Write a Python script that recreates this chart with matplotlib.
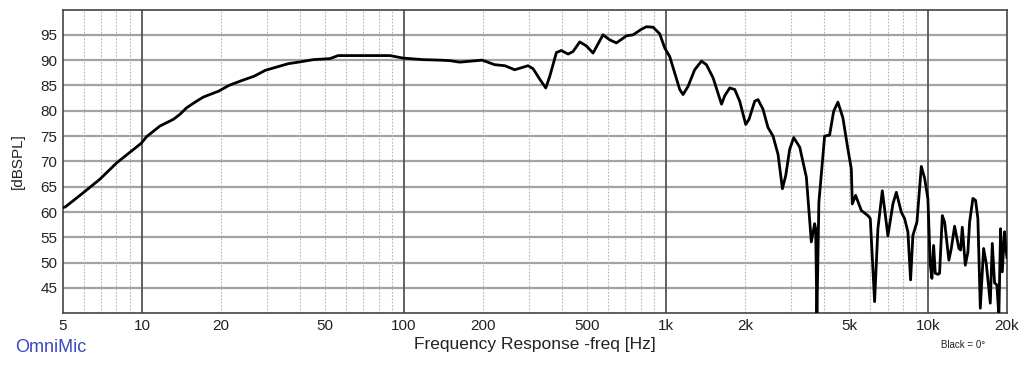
import matplotlib.pyplot as plt
from matplotlib.ticker import NullLocator

plt.rcParams['font.family'] = ['Liberation Sans', 'DejaVu Sans']

# frequency response (Hz, dB SPL)
freq = [5.0, 5.1, 5.97, 6.92, 8.01, 9.0, 9.95, 10.43, 11.73, 13.18, 13.97,
        14.82, 16.18, 17.15, 19.67, 21.47, 24.13, 26.75, 29.63, 36.2, 39.5,
        45.1, 52.2, 56.1, 88.4, 99.3, 118.4, 137, 149.6, 163.3, 198.8,
        221.9, 242.5, 264.6, 280.8, 297.5, 311, 330, 347.6, 360, 381.6,
        398.6, 422.8, 441.7, 468.6, 496.9, 526.6, 574.9, 609.9, 646.6,
        706.3, 748.3, 805.7, 841.9, 892.2, 946, 988.6, 1033, 1079, 1128,
        1161, 1213, 1286, 1365, 1426, 1512, 1628, 1676, 1750, 1829, 1910,
        2014, 2073, 2180, 2244, 2344, 2449, 2560, 2675, 2780, 2862, 2964,
        3071, 3237, 3431, 3584, 3690, 3723, 3764, 3830, 4028, 4209, 4361,
        4527, 4730, 4943, 5093, 5137, 5288, 5561, 5891, 6017, 6249, 6433,
        6687, 7024, 7341, 7564, 7900, 8133, 8372, 8573, 8749, 9064, 9421,
        9697, 9982, 10195, 10340, 10495, 10653, 10899, 11060, 11330, 11560,
        12003, 12261, 12621, 12877, 13105, 13305, 13502, 13865, 14185,
        14399, 14823, 15178, 15486, 15817, 16283, 16672, 17267, 17575,
        17930, 18297, 18620, 18902, 19187, 19577, 19749, 20000]
spl = [60.9, 61.0, 63.8, 66.5, 69.7, 71.8, 73.6, 74.9, 77.0, 78.3, 79.3,
       80.6, 81.9, 82.7, 83.9, 85.0, 86.0, 86.8, 88.0, 89.3, 89.6,
       90.1, 90.3, 90.9, 90.9, 90.4, 90.1, 90.0, 89.9, 89.6, 90.0,
       89.1, 88.9, 88.1, 88.5, 88.9, 88.3, 86.2, 84.5, 86.8, 91.5,
       91.9, 91.2, 91.7, 93.6, 92.8, 91.4, 95.0, 94.0, 93.4,
       94.8, 95.0, 96.1, 96.6, 96.5, 95.2, 92.4, 90.7, 87.5, 84.2,
       83.2, 84.8, 88.1, 89.8, 89.1, 86.5, 81.3, 83.0, 84.5, 84.2, 81.9,
       77.3, 78.3, 81.9, 82.2, 80.3, 76.7, 75.0, 71.4, 64.6, 67.2, 72.4,
       74.7, 72.8, 66.9, 54.1, 57.7, 56.7, 39.5, 61.9, 75.0, 75.2, 79.9,
       81.7, 78.6, 72.4, 68.5, 61.6, 63.3, 60.3, 59.3, 58.7, 42.3, 56.7,
       64.2, 55.3, 61.6, 63.9, 60.0, 58.7, 56.1, 46.6, 55.4, 58.0, 69.0,
       66.7, 62.6, 49.5, 46.9, 53.4, 47.9, 47.7, 47.9, 59.3, 58.0,
       50.5, 52.8, 57.2, 54.9, 52.8, 52.5, 57.0, 49.5, 52.1,
       58.0, 62.7, 62.3, 58.7, 41.0, 52.8, 49.8, 42.0, 53.8,
       46.0, 45.6, 39.5, 56.7, 48.2, 56.1, 53.4, 51.0]

xticks = [5, 10, 20, 50, 100, 200, 500, 1000, 2000, 5000, 10000, 20000]
xlabels = ['5', '10', '20', '50', '100', '200', '500', '1k', '2k', '5k', '10k', '20k']
yticks = [45, 50, 55, 60, 65, 70, 75, 80, 85, 90, 95]

fig = plt.figure(figsize=(10.24, 3.68), dpi=100)
ax = fig.add_axes([63 / 1024, 1 - 313.3 / 368, 944 / 1024, 303.8 / 368])
ax.set_xscale('log')
ax.set_xlim(5, 20000)
ax.set_ylim(40, 100)

# grid
for y in yticks:
    ax.axhline(y, color='#a3a3a3', lw=1.6, zorder=1)
for dec in [10, 100, 1000, 10000]:
    ax.axvline(dec, color='#555555', lw=1.3, zorder=2)
minor = [6, 7, 8, 9]
for dec in [10, 100, 1000]:
    minor += [m * dec for m in range(2, 10)]
for f in minor:
    ax.axvline(f, color='#b5b5b5', lw=0.8, ls=(0, (1.5, 1.5)), zorder=1)

ax.plot(freq, spl, color='black', lw=2.0, zorder=3)

ax.set_xticks(xticks)
ax.set_xticklabels(xlabels)
ax.xaxis.set_minor_locator(NullLocator())
ax.set_yticks(yticks)
ax.tick_params(length=0, labelsize=11, pad=4, colors='#222222')
for s in ax.spines.values():
    s.set_color('#444444')
    s.set_linewidth(1.2)

fig.text(18 / 1024, 1 - 161 / 368, '[dBSPL]', rotation=90, ha='center', va='center',
         fontsize=11, color='#222222')
fig.text(535 / 1024, 1 - 345 / 368, 'Frequency Response -freq [Hz]', ha='center',
         va='center', fontsize=12.5, color='#222222')
fig.text(15 / 1024, 1 - 347 / 368, 'OmniMic', ha='left', va='center', fontsize=13,
         color='#3a48c0')
fig.text(963 / 1024, 1 - 345 / 368, 'Black = 0°', ha='center', va='center', fontsize=7,
         color='#222222')

fig.savefig('out.png', dpi=100)
